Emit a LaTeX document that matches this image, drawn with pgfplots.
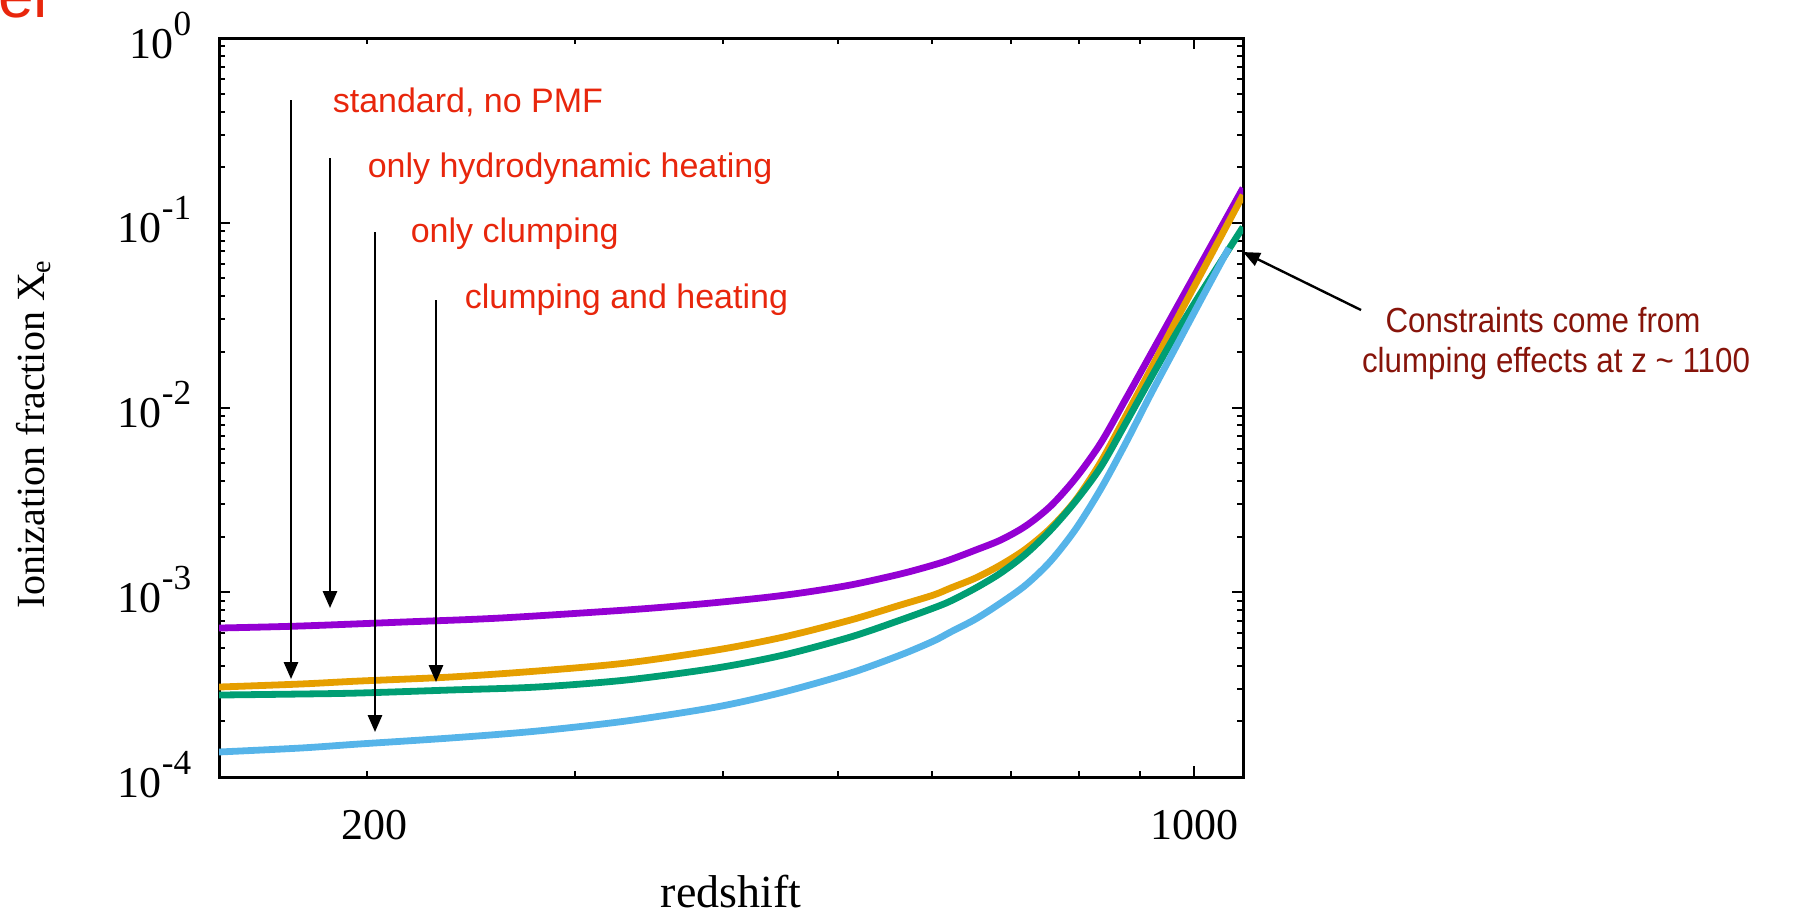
\documentclass[border=0pt]{standalone}
\usepackage{pgfplots}
\pgfplotsset{compat=1.18}
\usepackage{graphicx}
\usepackage{fontspec}
\setmainfont{Liberation Serif}
\newfontfamily\arial{Liberation Sans}
\usetikzlibrary{arrows.meta}
\definecolor{cpurple}{RGB}{148,0,211}
\definecolor{corange}{RGB}{230,159,0}
\definecolor{cgreen}{RGB}{0,158,115}
\definecolor{cblue}{RGB}{86,180,233}
\definecolor{cred}{RGB}{232,38,12}
\definecolor{cbrown}{RGB}{135,20,10}
\newcommand{\ex}[1]{\raisebox{5.75pt}{\fontsize{8.8}{8.8}\selectfont #1}}

\pgfplotstableread{
z xe
149.9 6.405e-4
175.6 6.567e-4
214.5 6.902e-4
259.2 7.255e-4
331.2 8.016e-4
382.6 8.638e-4
430.1 9.308e-4
464.9 9.907e-4
512.5 1.095e-3
564.8 1.256e-3
602.3 1.405e-3
622.7 1.504e-3
653.8 1.693e-3
686.4 1.918e-3
720.7 2.284e-3
756.6 2.930e-3
794.4 4.154e-3
834.0 6.426e-3
875.6 1.112e-2
919.3 1.948e-2
965.2 3.414e-2
1013.3 5.981e-2
1100 0.1542
}\purple

\pgfplotstableread{
z xe
149.9 3.070e-4
175.6 3.187e-4
196.9 3.308e-4
235.1 3.477e-4
278.5 3.748e-4
331.2 4.140e-4
394.7 4.868e-4
449.8 5.726e-4
512.5 7.076e-4
564.8 8.530e-4
602.3 9.663e-4
622.7 1.054e-3
653.8 1.195e-3
686.4 1.405e-3
720.7 1.714e-3
756.6 2.227e-3
794.4 3.157e-3
834.0 5.070e-3
875.6 8.995e-3
919.3 1.616e-2
965.2 2.939e-2
1013.3 5.280e-2
1100 0.1413
}\orange

\pgfplotstableread{
z xe
149.9 2.779e-4
175.6 2.814e-4
196.9 2.849e-4
235.1 2.958e-4
278.5 3.070e-4
331.2 3.350e-4
394.7 3.891e-4
449.8 4.575e-4
512.5 5.726e-4
564.8 7.076e-4
602.3 8.218e-4
622.7 8.967e-4
653.8 1.054e-3
686.4 1.271e-3
720.7 1.611e-3
756.6 2.173e-3
794.4 3.118e-3
834.0 4.764e-3
875.6 8.244e-3
919.3 1.444e-2
965.2 2.499e-2
1013.3 4.167e-2
1100 9.48e-2
}\green

\pgfplotstableread{
z xe
149.9 1.366e-4
175.6 1.435e-4
196.9 1.509e-4
235.1 1.626e-4
278.5 1.774e-4
331.2 2.010e-4
394.7 2.393e-4
449.8 2.885e-4
512.5 3.655e-4
564.8 4.575e-4
602.3 5.446e-4
622.7 6.093e-4
653.8 7.165e-4
686.4 8.746e-4
720.7 1.095e-3
756.6 1.476e-3
794.4 2.200e-3
834.0 3.622e-3
875.6 6.426e-3
919.3 1.183e-2
965.2 2.126e-2
1013.3 3.819e-2
1070.1 7.302e-2
}\blue

\begin{document}
\begin{tikzpicture}[x=1pt,y=1pt]
\path[use as bounding box] (0,0) rectangle (448.5,-228.25);
\begin{axis}[
  at={(54.75pt,-194.25pt)}, anchor=south west,
  scale only axis, width=256pt, height=184.75pt,
  xmode=log, ymode=log,
  xmin=150, xmax=1100, ymin=1e-4, ymax=1,
  xtick={1000}, xticklabels={\mbox{1000}},
  extra x ticks={200}, extra x tick labels={\mbox{200}},
  extra x tick style={major tick length=1.4pt, xticklabel style={xshift=1.8pt}},
  minor xtick={300,400,500,600,700,800,900},
  ytick={1e-4,1e-3,1e-2,1e-1,1},
  yticklabels={\mbox{10\ex{-4}},\mbox{10\ex{-3}},\mbox{10\ex{-2}},\mbox{10\ex{-1}},\mbox{10\ex{0}}},
  minor ytick={2e-4,3e-4,4e-4,5e-4,6e-4,7e-4,8e-4,9e-4,2e-3,3e-3,4e-3,5e-3,6e-3,7e-3,8e-3,9e-3,2e-2,3e-2,4e-2,5e-2,6e-2,7e-2,8e-2,9e-2,2e-1,3e-1,4e-1,5e-1,6e-1,7e-1,8e-1,9e-1},
  tick align=inside, major tick length=2.75pt, minor tick length=1.4pt,
  axis line style={line width=0.75pt},
  every tick/.style={black, line width=0.5pt},
  tick label style={font=\fontsize{11}{11}\selectfont, inner sep=0pt},
  xticklabel style={anchor=base, yshift=-15.5pt},
  yticklabel style={anchor=base east, xshift=-6.75pt, yshift=-5pt},
  xlabel={redshift},
  ylabel={Ionization fraction X\textsubscript{e}},
  xlabel style={font=\fontsize{11.5}{13}\selectfont, at={(axis description cs:0.5,0)}, anchor=base, yshift=-32.5pt, inner sep=0pt},
  ylabel style={font=\fontsize{10}{12}\selectfont, at={(axis description cs:0,0.5)}, anchor=center, xshift=-6.5pt, yshift=46.25pt},
]
\addplot[cpurple, line width=1.7pt, smooth] table[x=z,y=xe] {\purple};
\addplot[corange, line width=1.7pt, smooth] table[x=z,y=xe] {\orange};
\addplot[cgreen, line width=1.7pt, smooth] table[x=z,y=xe] {\green};
\addplot[cblue, line width=1.7pt, smooth] table[x=z,y=xe] {\blue};
\end{axis}

\tikzset{arr/.style={line width=0.6pt, -{Triangle[length=4.2pt,width=3.5pt]}}}
\draw[arr] (72.75,-25) -- (72.75,-169.75);
\draw[arr] (82.5,-39.5) -- (82.5,-152);
\draw[arr] (93.75,-58) -- (93.75,-183);
\draw[arr] (109,-75) -- (109,-170.5);
\draw[arr] (340.25,-77.5) -- (310.75,-63);

\begin{scope}[every node/.style={inner sep=0pt, anchor=base west, text=cred, font=\arial\fontsize{8.5}{8.5}\selectfont}]
\node at (83,-28) {standard, no PMF};
\node at (91.75,-44.25) {only hydrodynamic heating};
\node at (102.5,-60.5) {only clumping};
\node at (116,-77) {clumping and heating};
\end{scope}

\node[inner sep=0pt, anchor=base, text=cbrown, font=\arial\fontsize{8.7}{8.7}\selectfont] at (385.75,-83) {\scalebox{0.9}[1]{Constraints come from}};
\node[inner sep=0pt, anchor=base, text=cbrown, font=\arial\fontsize{8.7}{8.7}\selectfont] at (389,-93) {\scalebox{0.9}[1]{clumping effects at z \textasciitilde{} 1100}};

\node[inner sep=0pt, anchor=base west, text=cred, font=\arial\fontsize{16}{16}\selectfont] at (-0.6,-4.25) {el};
\end{tikzpicture}
\end{document}
